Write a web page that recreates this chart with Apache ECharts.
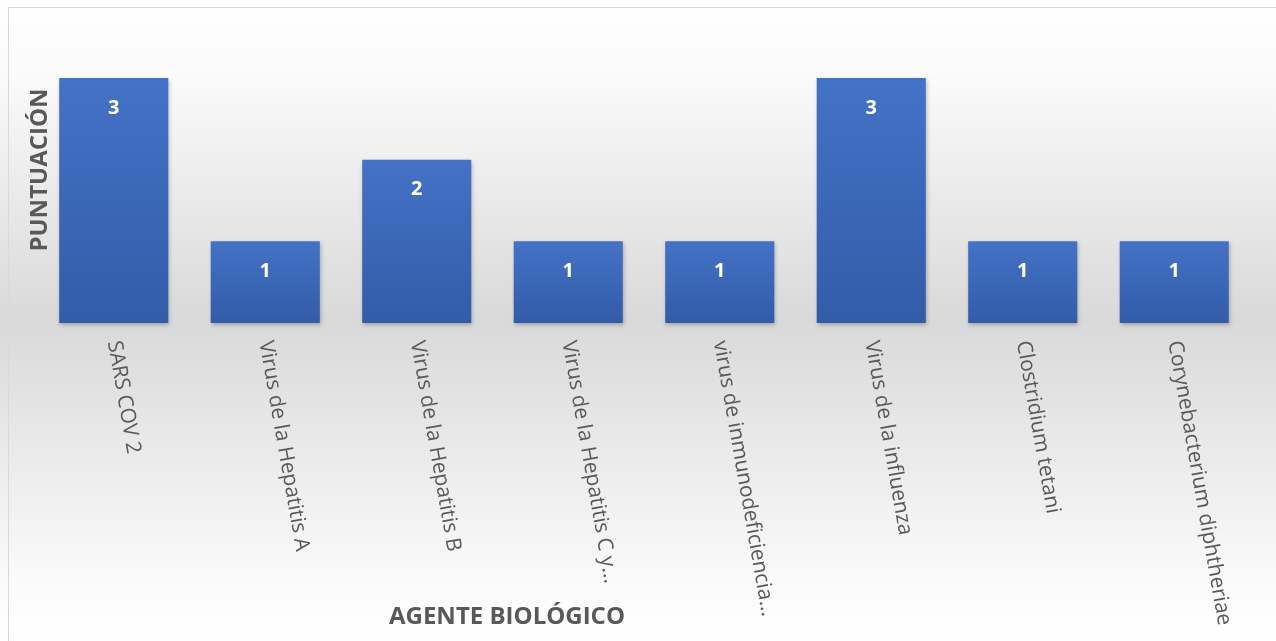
<!DOCTYPE html>
<html><head><meta charset="utf-8">
<script src="https://cdn.jsdelivr.net/npm/echarts@6/dist/echarts.min.js"></script>
<style>html,body{margin:0;padding:0;background:#fff}#c{width:1276px;height:641px}</style>
</head><body><div id="c"></div>
<script>
const categories = ["SARS COV 2","Virus de la Hepatitis A","Virus de la Hepatitis B","Virus de la Hepatitis C y...","virus de inmunodeficiencia...","Virus de la influenza","Clostridium tetani","Corynebacterium diphtheriae"];
const values = [3,1,2,1,1,3,1,1];
const xTitle = "AGENTE BIOLÓGICO";
const yTitle = "PUNTUACIÓN";

const chart = echarts.init(document.getElementById('c'));
chart.setOption({
  backgroundColor: {type:'linear',x:0,y:0,x2:0,y2:1,colorStops:[
    {offset:0,color:'#ffffff'},{offset:0.12,color:'#fafafa'},{offset:0.5,color:'#d9d9d9'},{offset:0.9,color:'#fafafa'},{offset:1,color:'#ffffff'}]},
  animation:false,
  grid:{left:38,right:26,top:78,bottom:318,containLabel:false},
  xAxis:{type:'category',data:categories,
    axisLine:{show:false},axisTick:{show:false},
    axisLabel:{rotate:-80,interval:0,margin:18,color:'#595959',fontSize:21,fontFamily:'"Open Sans", sans-serif'}},
  yAxis:{type:'value',min:0,max:3,show:false,splitLine:{show:false}},
  graphic:[
    {type:'rect',shape:{x:8.5,y:7.5,width:1270,height:640},style:{fill:'none',stroke:'#d9d9d9',lineWidth:1},silent:true},
    {type:'text',x:40,y:170,rotation:Math.PI/2,style:{text:yTitle,fill:'#595959',font:'bold 24px "Open Sans", sans-serif',textAlign:'center',textVerticalAlign:'middle'}},
    {type:'text',x:507,y:617,style:{text:xTitle,fill:'#595959',font:'bold 24px "Open Sans", sans-serif',textAlign:'center',textVerticalAlign:'middle'}}
  ],
  series:[{type:'bar',data:values,barCategoryGap:'28%',
    itemStyle:{color:{type:'linear',x:0,y:0,x2:0,y2:1,colorStops:[{offset:0,color:'#4472c6'},{offset:1,color:'#335ca8'}]},
      shadowBlur:4,shadowColor:'rgba(0,0,0,0.25)',shadowOffsetX:1,shadowOffsetY:2},
    label:{show:true,position:'insideTop',distance:20,color:'#ffffff',fontWeight:'bold',fontSize:20,fontFamily:'"Open Sans", sans-serif'}
  }]
});
</script></body></html>
